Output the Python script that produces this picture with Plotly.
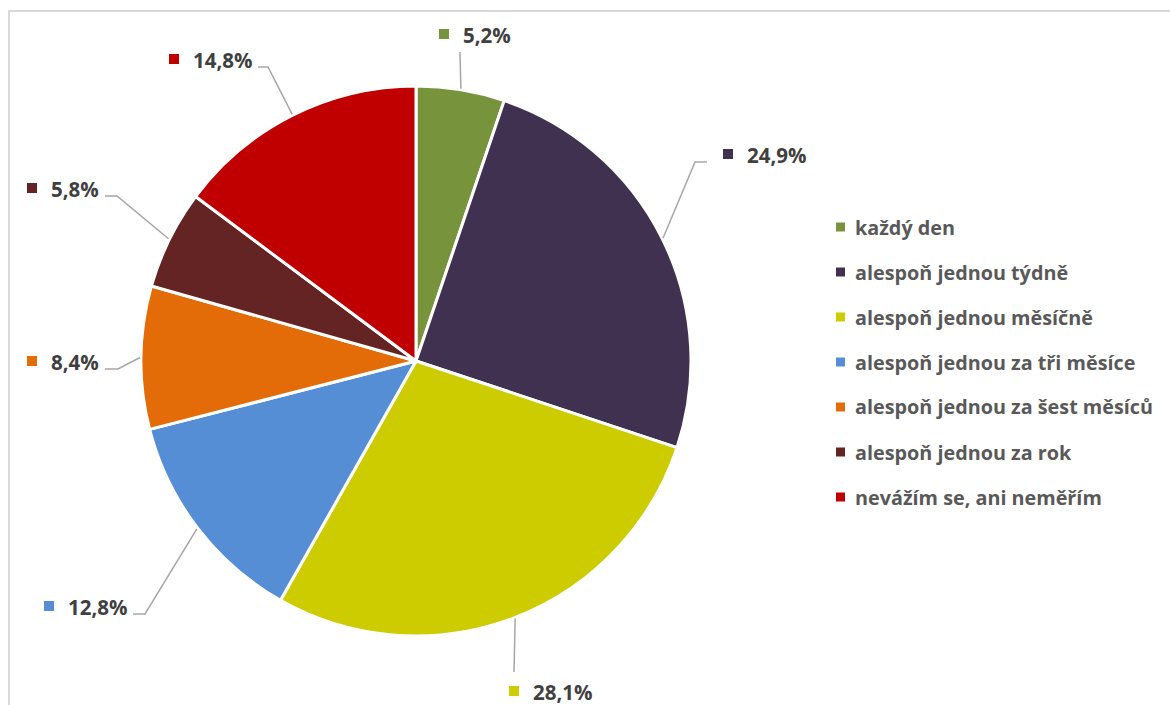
import math
import plotly.graph_objects as go

# ---- data -------------------------------------------------------------
categories = [
    "každý den",
    "alespoň jednou týdně",
    "alespoň jednou měsíčně",
    "alespoň jednou za tři měsíce",
    "alespoň jednou za šest měsíců",
    "alespoň jednou za rok",
    "nevážím se, ani neměřím",
]
shares = [5.2, 24.9, 28.1, 12.8, 8.4, 5.8, 14.8]
value_labels = ["5,2%", "24,9%", "28,1%", "12,8%", "8,4%", "5,8%", "14,8%"]

# ---- styling / layout -------------------------------------------------
colors = ["#77933C", "#403151", "#CCCC00", "#558ED5", "#E36C09", "#632423", "#C00000"]
W, H = 1170, 705
PIE_CX, PIE_CY, PIE_R = 416, 361, 275     # pie centre and radius in px
LABEL_FONT = "Open Sans"
LABEL_COLOR = "#404040"
LEGEND_COLOR = "#595959"
LEADER_COLOR = "#A6A6A6"

# data-label placement (text left edge, text centre y) and leader bends, px
label_pos = [(463, 35), (747, 155), (533, 692), (68, 607), (51, 362), (51, 189), (193, 60)]
leader_bends = [
    [(460, 52)],
    [(695, 162), (707, 162)],
    [(514, 672)],
    [(145, 614), (133, 614)],
    [(118, 369), (105, 369)],
    [(117, 196), (105, 196)],
    [(268, 67), (258, 67)],
]

# legend placement
LEG_SQ_X, LEG_TEXT_X, LEG_Y0, LEG_DY = 836, 855, 227, 45


def px(x):
    return x / W


def py(y):
    return 1 - y / H


fig = go.Figure(
    go.Pie(
        labels=categories,
        values=shares,
        sort=False,
        direction="clockwise",
        rotation=0,
        marker=dict(colors=colors, line=dict(color="white", width=3)),
        textinfo="none",
        hoverinfo="label+percent",
        showlegend=False,
        domain=dict(
            x=[px(PIE_CX - PIE_R), px(PIE_CX + PIE_R)],
            y=[py(PIE_CY + PIE_R), py(PIE_CY - PIE_R)],
        ),
    )
)

shapes = []
annotations = []

# outer frame of the chart area
shapes.append(dict(type="rect", xref="paper", yref="paper",
                   x0=px(9), x1=1.05, y0=-0.05, y1=py(11),
                   line=dict(color="#D9D9D9", width=2), fillcolor="rgba(0,0,0,0)"))

total = sum(shares)
cum = 0.0
for i, v in enumerate(shares):
    mid = 2 * math.pi * (cum + v / 2) / total
    cum += v
    sx = PIE_CX + (PIE_R + 1) * math.sin(mid)
    sy = PIE_CY - (PIE_R + 1) * math.cos(mid)
    pts = [(sx, sy)] + leader_bends[i]
    path = "M " + " L ".join(f"{px(x):.5f},{py(y):.5f}" for x, y in pts)
    shapes.append(dict(type="path", xref="paper", yref="paper", path=path,
                       line=dict(color=LEADER_COLOR, width=1.5)))

    tx, ty = label_pos[i]
    shapes.append(dict(type="rect", xref="paper", yref="paper",
                       x0=px(tx - 24), x1=px(tx - 14), y0=py(ty + 4), y1=py(ty - 6),
                       line=dict(width=0), fillcolor=colors[i]))
    annotations.append(dict(xref="paper", yref="paper", x=px(tx - 2), y=py(ty),
                            xanchor="left", yanchor="middle", showarrow=False,
                            text=f"<b>{value_labels[i]}</b>",
                            font=dict(family=LABEL_FONT, size=20.5, color=LABEL_COLOR)))

# legend drawn as coloured squares with text
for i, name in enumerate(categories):
    y = LEG_Y0 + i * LEG_DY
    shapes.append(dict(type="rect", xref="paper", yref="paper",
                       x0=px(LEG_SQ_X), x1=px(LEG_SQ_X + 9), y0=py(y + 4.5), y1=py(y - 4.5),
                       line=dict(width=0), fillcolor=colors[i]))
    annotations.append(dict(xref="paper", yref="paper", x=px(LEG_TEXT_X - 2), y=py(y),
                            xanchor="left", yanchor="middle", showarrow=False,
                            text=f"<b>{name}</b>",
                            font=dict(family=LABEL_FONT, size=19.8, color=LEGEND_COLOR)))

fig.update_layout(
    width=W, height=H,
    margin=dict(l=0, r=0, t=0, b=0),
    paper_bgcolor="white",
    plot_bgcolor="white",
    shapes=shapes,
    annotations=annotations,
)

fig.write_html("out.html", config={"displayModeBar": False})
